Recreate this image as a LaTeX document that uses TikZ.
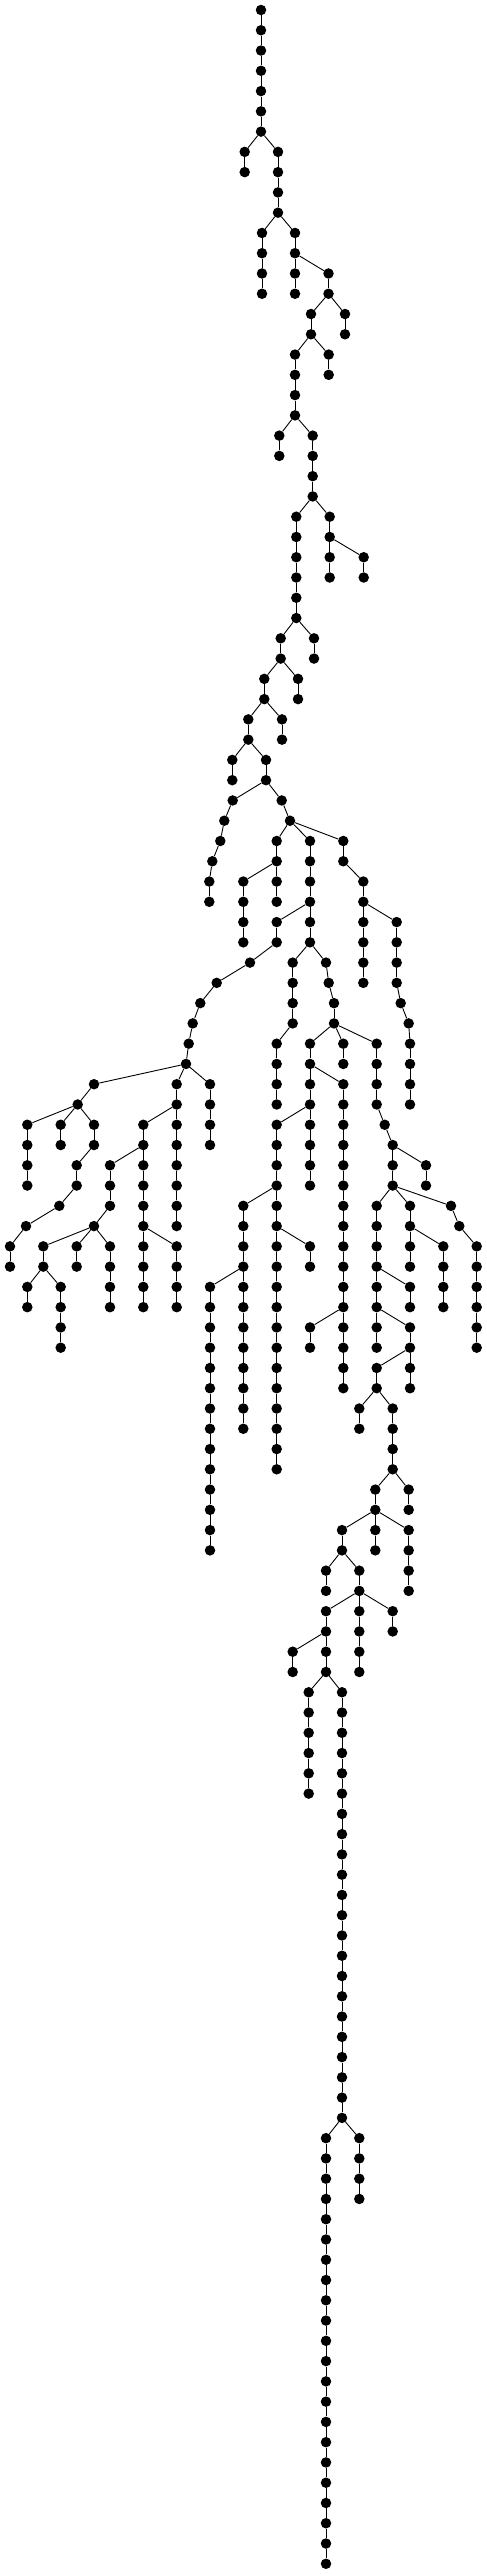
\documentclass[tikz,border=0pt]{standalone}
\usetikzlibrary{arrows.meta}

\tikzset{
    vertex/.style={circle, fill=black, draw=none, inner sep=0pt, minimum size=10.5pt},
    branch/.style={draw=black, line width=0.9pt}
}

\begin{document}
\begin{tikzpicture}[x=1pt, y=-20.268pt]
    \useasboundingbox (0,-0.4934) rectangle (487,126.505);

    % runs of the tree: name / x / first level / last level
    \foreach \c/\x/\s/\e in {
        A/261/0/6, B/244.7/7/8, C/278/7/10, D/262/11/14, E/295/11/14,
        F/328.5/13/14, G/311/15/16, H/345/15/16, I/295/17/20, J/328.7/17/18,
        K/279.3/21/22, M/312.7/21/24, N/296.3/25/30, O/329.7/25/28, P/363.7/27/28,
        Q/280.7/31/32, R/314/31/32, S/264.3/33/34, T/298/33/34, U/248.3/35/36,
        V/282/35/36, W/232.3/37/38, X/266/37/38,
        Ya/232.7/39/39, Yb/224.3/40/40, Yc/220.3/41/41, Yd/212.3/42/42, Ye/209.3/43/44,
        Za/281.7/39/39, Zb/290/40/40,
        AA/276.7/41/44, AB/243.3/43/46, AC/310/41/46, AD/343.3/41/42, AE/363.3/43/48,
        AF/396.7/45/48, AFa/400.7/49/49, AFb/408.7/50/50, AH/410/51/54,
        AG/276.7/45/46, AGa/250/47/47, AGb/216.7/48/48, AGc/200.3/49/49,
        AGd/192.7/50/50, AGe/188.7/51/51, AGf/186/52/52,
        AI/292.7/47/50, AJa/326/47/47, AJb/328.7/48/48, AJc/334/49/50,
        AK/276.7/51/54, AL/310/51/58, AM/343.3/51/52, AN/376.7/51/54,
        AO/343.3/53/68, AP/276.7/55/72, AQ/243.3/59/70, AR/210/63/76,
        AS/310/61/62, AT/310/65/66,
        AU/384.7/55/55, AV/392.7/56/58, AW/426/57/58, AX/376.7/59/66, AY/410/59/62,
        AZa/451/59/59, AZb/459.3/60/60, AZc/476.7/61/66,
        BA/443.3/61/64, BB/410/63/64, BC/410/65/68, BD/376.7/67/68,
        BE/359.3/69/70, BF/392.7/69/72, BG/375.3/73/74, BH/408.7/73/74,
        BI/342/75/76, BJ/375.3/75/76, BK/408.7/75/78, BL/326/77/78, BM/359.3/77/78,
        BN/326/79/82, BO/359.3/79/82, BP/392.7/79/80, BQ/292.7/81/82,
        BR/308.7/83/88, BS/342/83/104, BT/326/105/126, BU/359.3/105/108,
        CA/176.7/53/60, CB/210/53/56, CFa/94/53/53, CFb/77.7/54/54,
        CC/27.3/55/58, CD/60.7/55/56, CE/94/55/56, CG/76.7/57/58,
        CHa/59.3/59/59, CHb/26/60/60, CHc/10/61/62,
        CI/143.3/55/64, CJ/110/57/59, CK/94/60/60, CL/43.3/61/62,
        CM/76.7/61/62, CN/110/61/64, CO/27.3/63/64, CP/60.7/63/66, CQ/176.7/61/64}
    {
        \foreach \l in {\s,...,\e}
            \node[vertex] (\c-\l) at (\x,\l) {};
        \foreach \l in {\s,...,\e} {
            \ifnum\l>\s\relax
                \pgfmathtruncatemacro\p{\l-1}
                \draw[branch] (\c-\p) -- (\c-\l);
            \fi
        }
    }

    % where each run hangs off its parent
    \foreach \k/\p in {
        B-7/A-6, C-7/A-6, D-11/C-10, E-11/C-10, F-13/E-12, G-15/F-14, H-15/F-14,
        I-17/G-16, J-17/G-16, K-21/I-20, M-21/I-20, N-25/M-24, O-25/M-24, P-27/O-26,
        Q-31/N-30, R-31/N-30, S-33/Q-32, T-33/Q-32, U-35/S-34, V-35/S-34,
        W-37/U-36, X-37/U-36,
        Ya-39/X-38, Yb-40/Ya-39, Yc-41/Yb-40, Yd-42/Yc-41, Ye-43/Yd-42,
        Za-39/X-38, Zb-40/Za-39,
        AA-41/Zb-40, AC-41/Zb-40, AD-41/Zb-40,
        AB-43/AA-42, AE-43/AD-42, AF-45/AE-44, AFa-49/AF-48, AFb-50/AFa-49, AH-51/AFb-50,
        AG-45/AC-44, AGa-47/AG-46, AGb-48/AGa-47, AGc-49/AGb-48, AGd-50/AGc-49,
        AGe-51/AGd-50, AGf-52/AGe-51,
        AI-47/AC-46, AJa-47/AC-46, AJb-48/AJa-47, AJc-49/AJb-48,
        AK-51/AI-50, AL-51/AJc-50, AM-51/AJc-50, AN-51/AJc-50,
        AO-53/AL-52, AP-55/AL-54, AQ-59/AP-58, AR-63/AQ-62, AS-61/AP-60, AT-65/AO-64,
        AU-55/AN-54, AV-56/AU-55, AW-57/AV-56, AX-59/AV-58, AY-59/AV-58,
        AZa-59/AV-58, AZb-60/AZa-59, AZc-61/AZb-60,
        BA-61/AY-60, BB-63/AX-62, BC-65/AX-64, BD-67/BC-66, BE-69/BD-68, BF-69/BD-68,
        BG-73/BF-72, BH-73/BF-72, BI-75/BG-74, BJ-75/BG-74, BK-75/BG-74,
        BL-77/BI-76, BM-77/BI-76, BN-79/BM-78, BO-79/BM-78, BP-79/BM-78,
        BQ-81/BN-80, BR-83/BN-82, BS-83/BN-82, BT-105/BS-104, BU-105/BS-104,
        CA-53/AGf-52, CB-53/AGf-52, CFa-53/AGf-52, CFb-54/CFa-53,
        CC-55/CFb-54, CD-55/CFb-54, CE-55/CFb-54, CG-57/CE-56,
        CHa-59/CG-58, CHb-60/CHa-59, CHc-61/CHb-60,
        CI-55/CA-54, CJ-57/CI-56, CK-60/CJ-59, CL-61/CK-60, CM-61/CK-60, CN-61/CK-60,
        CO-63/CL-62, CP-63/CL-62, CQ-61/CI-60}
        \draw[branch] (\p) -- (\k);

\end{tikzpicture}
\end{document}
